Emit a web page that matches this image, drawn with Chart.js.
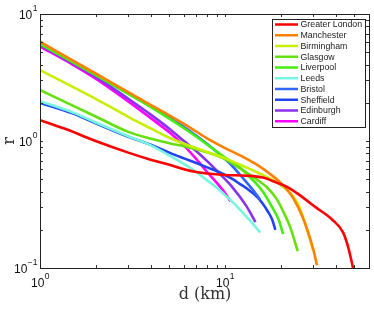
<!DOCTYPE html>
<html>
<head>
<meta charset="utf-8">
<script src="https://cdn.jsdelivr.net/npm/chart.js@4"></script>
<style>
  html, body { margin: 0; padding: 0; background: #fff; }
  #grafico { display: block; }
</style>
</head>
<body>
<canvas id="grafico" width="374" height="309"></canvas>
<script>
// cidades e cores (ordem da legenda)
const cities = ['Greater London', 'Manchester', 'Birmingham', 'Glasgow', 'Liverpool',
  'Leeds', 'Bristol', 'Sheffield', 'Edinburgh', 'Cardiff'];
const colors = ['#ff0000', '#ff8000', '#c6f000', '#66e010', '#44ee11',
  '#77f5e0', '#3366ff', '#2244ee', '#8833ee', '#ff00ff'];

// d (km) e r
const dLondon = [1, 1.4, 2, 3, 4, 5, 6, 7, 8, 10, 13, 16, 19, 22, 25, 31, 38, 43.5, 46.3, 49.2];
const rLondon = [1.46, 1.23, 1.0, 0.81, 0.71, 0.65, 0.60, 0.57, 0.555, 0.54, 0.533, 0.515, 0.47, 0.43, 0.38, 0.30, 0.24, 0.19, 0.146, 0.10];

const dManchester = [1, 2, 3, 4, 5, 6.5, 8, 10, 12.5, 15, 17.5, 19.5, 21.5, 23.5, 26, 28, 30, 31.4];
const rManchester = [6.05, 3.4, 2.43, 1.91, 1.59, 1.27, 1.05, 0.88, 0.75, 0.645, 0.55, 0.485, 0.42, 0.35, 0.26, 0.195, 0.14, 0.105];

const dBirmingham = [1, 2, 3, 4, 5, 6, 8, 10, 13, 16, 20, 24.5, 27, 28.8, 29.9];
const rBirmingham = [3.62, 2.15, 1.55, 1.25, 1.06, 0.95, 0.82, 0.73, 0.62, 0.54, 0.45, 0.33, 0.23, 0.168, 0.138];

const dGlasgow = [1, 2, 3, 4, 5, 6, 7, 8.3, 10, 12, 14.5, 16.9, 19, 20.6, 22.5, 24.7];
const rGlasgow = [2.52, 1.56, 1.18, 1.04, 0.96, 0.91, 0.86, 0.80, 0.72, 0.61, 0.51, 0.43, 0.35, 0.28, 0.21, 0.136];

const dLiverpool = [1, 2, 3, 4, 5, 6, 7, 8.5, 10, 12, 14, 16, 18, 19.5, 20.6];
const rLiverpool = [5.8, 3.3, 2.35, 1.84, 1.5, 1.26, 1.08, 0.88, 0.74, 0.62, 0.5, 0.4, 0.3, 0.24, 0.185];

const dLeeds = [1, 1.5, 2, 3, 4, 5, 6, 7, 8, 9, 10, 11, 12, 13.5, 15.5];
const rLeeds = [2.06, 1.68, 1.40, 1.09, 0.92, 0.77, 0.66, 0.57, 0.49, 0.43, 0.375, 0.33, 0.29, 0.24, 0.19];

const dBristol = [1, 2, 3, 4, 5, 6, 7, 8.3, 9.5, 11, 12.5, 14, 15.5];
const rBristol = [5.9, 3.32, 2.37, 1.86, 1.53, 1.29, 1.1, 0.91, 0.77, 0.63, 0.51, 0.42, 0.345];

const dSheffield = [1, 1.5, 2, 3, 4, 5, 6, 7, 8, 9, 10, 11, 12, 13.5, 15, 16, 17, 18, 18.7];
const rSheffield = [2.0, 1.65, 1.38, 1.08, 0.93, 0.81, 0.73, 0.67, 0.62, 0.58, 0.54, 0.50, 0.46, 0.41, 0.36, 0.32, 0.28, 0.24, 0.20];

const dEdinburgh = [1, 2, 3, 4, 5, 6, 7, 8.3, 9.5, 11, 13, 14.6];
const rEdinburgh = [5.7, 3.2, 2.15, 1.6, 1.25, 1.0, 0.83, 0.66, 0.54, 0.43, 0.31, 0.23];

const dCardiff = [1, 1.5, 2, 3, 4, 5, 6, 7, 8, 9, 10, 10.7];
const rCardiff = [5.55, 4.0, 3.1, 2.05, 1.5, 1.17, 0.92, 0.72, 0.57, 0.47, 0.39, 0.335];

const dAll = [dLondon, dManchester, dBirmingham, dGlasgow, dLiverpool, dLeeds, dBristol, dSheffield, dEdinburgh, dCardiff];
const rAll = [rLondon, rManchester, rBirmingham, rGlasgow, rLiverpool, rLeeds, rBristol, rSheffield, rEdinburgh, rCardiff];

// rotulos dos eixos (expoentes de 10)
const xTickExps = ['0', '1'];
const yTickExps = ['\u22121', '0', '1'];

const eixosPlugin = {
  id: 'eixos',
  afterDraw(chart) {
    const ctx = chart.ctx;
    const a = chart.chartArea;
    const sx = chart.scales.x, sy = chart.scales.y;
    const tl = 3;
    ctx.save();

    // marcas (tipo matlab, para dentro)
    ctx.strokeStyle = '#333';
    ctx.lineWidth = 1;
    ctx.beginPath();
    for (let dec = 1; dec <= 10; dec *= 10) {
      for (let k = 1; k <= 9; k++) {
        const v = k * dec;
        if (v > sx.max) break;
        const px = Math.round(sx.getPixelForValue(v)) + 0.5;
        ctx.moveTo(px, a.bottom); ctx.lineTo(px, a.bottom - tl);
        ctx.moveTo(px, a.top); ctx.lineTo(px, a.top + tl);
      }
    }
    for (let dec = 0.1; dec <= 10; dec *= 10) {
      for (let k = 1; k <= 9; k++) {
        const v = k * dec;
        if (v > sy.max * 1.001) break;
        const py = Math.round(sy.getPixelForValue(v)) + 0.5;
        ctx.moveTo(a.left, py); ctx.lineTo(a.left + tl, py);
        ctx.moveTo(a.right, py); ctx.lineTo(a.right - tl, py);
      }
    }
    ctx.stroke();

    // moldura
    ctx.strokeStyle = '#222';
    ctx.strokeRect(Math.round(a.left) + 0.5, Math.round(a.top) + 0.5,
      Math.round(a.right - a.left), Math.round(a.bottom - a.top));

    // rotulos 10^n
    ctx.fillStyle = '#111';
    const fBase = '12px "Liberation Sans", Arial, sans-serif';
    const fExp = '8.5px "Liberation Sans", Arial, sans-serif';
    ctx.textAlign = 'left';
    ctx.textBaseline = 'alphabetic';
    xTickExps.forEach(e => {
      const px = sx.getPixelForValue(Math.pow(10, Number(e)));
      ctx.font = fBase; const w1 = ctx.measureText('10').width;
      ctx.font = fExp; const w2 = ctx.measureText(e).width;
      const x0 = px - (w1 + w2) / 2;
      ctx.font = fBase; ctx.fillText('10', x0, 287);
      ctx.font = fExp; ctx.fillText(e, x0 + w1 + 0.5, 279);
    });
    yTickExps.forEach(e => {
      const v = Math.pow(10, Number(e.replace('\u2212', '-')));
      const py = sy.getPixelForValue(v);
      ctx.font = fBase; const w1 = ctx.measureText('10').width;
      ctx.font = fExp; const w2 = ctx.measureText(e).width;
      const x0 = 37 - w1 - w2;
      ctx.font = fBase; ctx.fillText('10', x0, py + 5);
      ctx.font = fExp; ctx.fillText(e, x0 + w1 + 0.5, py - 3);
    });

    // titulos dos eixos
    ctx.font = '16px "DejaVu Serif", serif';
    ctx.fillStyle = '#333';
    ctx.textAlign = 'center';
    ctx.fillText('d (km)', 205, 299);
    ctx.save();
    ctx.translate(14, 141);
    ctx.rotate(-Math.PI / 2);
    ctx.fillText('r', 0, 0);
    ctx.restore();

    // legenda
    const lx = 272.5, ly = 19.5, lw = 93, lh = 108;
    ctx.fillStyle = '#fff';
    ctx.fillRect(lx, ly, lw, lh);
    ctx.strokeStyle = '#222';
    ctx.lineWidth = 1;
    ctx.strokeRect(lx, ly, lw, lh);
    ctx.font = '8.8px "Liberation Sans", Arial, sans-serif';
    ctx.textAlign = 'left';
    ctx.textBaseline = 'middle';
    chart.data.datasets.forEach((ds, i) => {
      const yy = 24.5 + i * 10.75;
      ctx.strokeStyle = ds.borderColor;
      ctx.lineWidth = 2.5;
      ctx.beginPath();
      ctx.moveTo(275, yy); ctx.lineTo(298, yy);
      ctx.stroke();
      ctx.fillStyle = '#222';
      ctx.fillText(ds.label, 300.5, yy + 0.5);
    });
    ctx.restore();
  }
};

const ctx = document.getElementById('grafico').getContext('2d');
new Chart(ctx, {
  type: 'line',
  data: {
    datasets: cities.map((c, i) => ({
      label: c,
      data: dAll[i].map((d, j) => ({ x: d, y: rAll[i][j] })),
      borderColor: colors[i],
      borderWidth: 2.6,
      pointRadius: 0,
      fill: false,
      cubicInterpolationMode: 'monotone'
    }))
  },
  options: {
    responsive: false,
    animation: false,
    devicePixelRatio: 1,
    layout: { padding: { top: 14, right: 5, left: 0, bottom: 0 } },
    scales: {
      x: {
        type: 'logarithmic', min: 1, max: 60,
        ticks: { display: false }, grid: { display: false }, border: { display: false },
        afterFit(s) { s.height = 41; }
      },
      y: {
        type: 'logarithmic', min: 0.1, max: 10,
        ticks: { display: false }, grid: { display: false }, border: { display: false },
        afterFit(s) { s.width = 40; }
      }
    },
    plugins: {
      legend: { display: false },
      tooltip: { enabled: false }
    }
  },
  plugins: [eixosPlugin]
});
</script>
</body>
</html>
